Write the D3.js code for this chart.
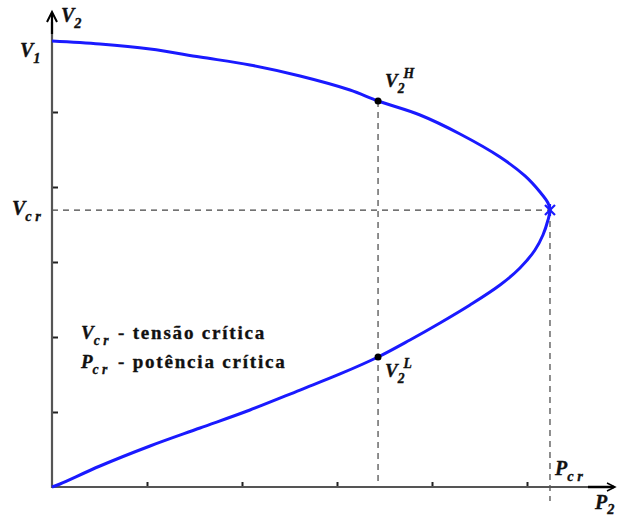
<!DOCTYPE html>
<html>
<head>
<meta charset="utf-8">
<script src="https://cdn.jsdelivr.net/npm/d3@7"></script>
</head>
<body style="margin:0">
<svg id="chart" width="618" height="518"></svg>
<script>
// P-V nose curve: load power P2 vs receiving-end voltage V2
const upperP = [0, 0.505, 1.032, 1.558, 2.084, 2.611, 3.137, 3.432, 3.874, 4.295, 4.716, 4.979, 5.137, 5.221, 5.242];
const upperV = [5.947, 5.907, 5.84, 5.733, 5.627, 5.48, 5.293, 5.147, 4.96, 4.707, 4.4, 4.147, 3.933, 3.787, 3.693];
const lowerP = [5.242, 5.221, 5.168, 5.084, 4.926, 4.716, 4.4, 4.084, 3.768, 3.432, 3.032, 2.611, 2.084, 1.558, 1.032, 0.505, 0.084, 0];
const lowerV = [3.693, 3.56, 3.36, 3.16, 2.92, 2.693, 2.427, 2.187, 1.96, 1.733, 1.507, 1.293, 1.027, 0.787, 0.547, 0.28, 0.04, 0];
const xTicks = [1, 2, 3, 4, 5];
const yTicks = [1, 2, 3, 4, 5];
const operatingP = 3.432;           // load level marked by the vertical dashed line
const highV = 5.147, lowV = 1.733;  // V2H and V2L at that load
const Pcr = 5.242, Vcr = 3.693;     // nose of the curve
const legendLines = [
  { sym: "V", sub: "c r", text: "- tensão crítica" },
  { sym: "P", sub: "c r", text: "- potência crítica" }
];

const svg = d3.select("#chart");
const x = d3.scaleLinear().domain([0, 6]).range([52, 622]);
const y = d3.scaleLinear().domain([0, 6]).range([487, 37]);

const axisColor = "#555";

// dashed guides
const guides = svg.append("g").attr("stroke", "#444").attr("stroke-width", 1.2)
  .attr("stroke-dasharray", "6,5").attr("fill", "none");
guides.append("line").attr("x1", x(0)).attr("x2", x(Pcr)).attr("y1", y(Vcr)).attr("y2", y(Vcr));
guides.append("line").attr("x1", x(Pcr)).attr("x2", x(Pcr)).attr("y1", y(Vcr)).attr("y2", y(0) + 14);
guides.append("line").attr("x1", x(operatingP)).attr("x2", x(operatingP)).attr("y1", y(highV)).attr("y2", y(0) - 3);

// axes
const xAxis = d3.axisBottom(x).tickValues(xTicks).tickSize(-5).tickFormat("").tickSizeOuter(0);
const yAxis = d3.axisLeft(y).tickValues(yTicks).tickSize(-6).tickFormat("").tickSizeOuter(0);
const gx = svg.append("g").attr("transform", `translate(0,${y(0)})`).call(xAxis);
const gy = svg.append("g").attr("transform", `translate(${x(0)},0)`).call(yAxis);
[gx, gy].forEach(g => {
  g.select(".domain").remove();
  g.selectAll(".tick line").attr("stroke", "#222").attr("stroke-width", 2);
});
svg.append("line").attr("x1", x(0)).attr("x2", 598).attr("y1", y(0)).attr("y2", y(0))
  .attr("stroke", axisColor).attr("stroke-width", 2.2);
svg.append("line").attr("x1", x(0)).attr("x2", x(0)).attr("y1", y(0) + 1).attr("y2", 22)
  .attr("stroke", axisColor).attr("stroke-width", 2.2);

// arrow heads
svg.append("line").attr("x1", 588).attr("x2", 614).attr("y1", y(0)).attr("y2", y(0))
  .attr("stroke", "#000").attr("stroke-width", 2.5);
svg.append("path").attr("d", `M607,${y(0) - 4} L615,${y(0)} L607,${y(0) + 4}`)
  .attr("stroke", "#000").attr("stroke-width", 1.5).attr("fill", "none");
svg.append("line").attr("x1", x(0)).attr("x2", x(0)).attr("y1", 34).attr("y2", 14)
  .attr("stroke", "#000").attr("stroke-width", 2.2);
svg.append("path").attr("d", `M${x(0) - 5},22 L${x(0)},12 L${x(0) + 5},22`)
  .attr("stroke", "#000").attr("stroke-width", 2).attr("fill", "none");

// the curve
const pts = upperP.map((p, i) => [p, upperV[i]])
  .concat(lowerP.slice(1).map((p, i) => [p, lowerV[i + 1]]));
const line = d3.line().x(d => x(d[0])).y(d => y(d[1])).curve(d3.curveCatmullRom.alpha(0.5));
svg.append("path").datum(pts).attr("d", line)
  .attr("fill", "none").attr("stroke", "#1a1aff").attr("stroke-width", 3);

// critical point marker
const cx = x(Pcr), cy = y(Vcr);
const star = svg.append("g").attr("stroke", "#1a1aff").attr("stroke-width", 2.2);
star.append("line").attr("x1", cx - 5).attr("x2", cx + 5).attr("y1", cy - 5).attr("y2", cy + 5);
star.append("line").attr("x1", cx - 5).attr("x2", cx + 5).attr("y1", cy + 5).attr("y2", cy - 5);
star.append("line").attr("x1", cx).attr("x2", cx).attr("y1", cy - 6).attr("y2", cy + 6);

// operating points
svg.selectAll("circle.op").data([highV, lowV]).join("circle").attr("class", "op")
  .attr("cx", x(operatingP)).attr("cy", d => y(d)).attr("r", 3.5).attr("fill", "#000");

function serif(sel, size, italic) {
  return sel.style("font-family", "Liberation Serif")
    .style("font-weight", "bold")
    .style("font-style", italic ? "italic" : "normal")
    .style("font-size", size + "px")
    .attr("fill", "#111").attr("stroke", "#111").attr("stroke-width", 0.35);
}

// labels with sub/superscripts
function symLabel(px, py, main, sub, sup, size, subDy) {
  const t = serif(svg.append("text").attr("x", px).attr("y", py), size, true);
  t.append("tspan").text(main);
  if (sub) t.append("tspan").style("font-size", (size * 0.72) + "px").attr("dy", subDy != null ? subDy : size * 0.3).text(sub);
  if (sup) t.append("tspan").style("font-size", (size * 0.72) + "px").attr("dx", -1).attr("dy", -size * 0.8).text(sup);
  return t;
}
symLabel(61, 22, "V", "2", null, 20);
symLabel(20, 57, "V", "1", null, 20);
symLabel(12, 215, "V", "c r", null, 20);
symLabel(385, 87, "V", "2", "H", 19);
symLabel(385, 377, "V", "2", "L", 19);
symLabel(555, 475, "P", "c r", null, 20);
symLabel(595, 509, "P", "2", null, 20, 5);

// legend
legendLines.forEach((d, i) => {
  const yy = 339 + i * 29;
  symLabel(81, yy, d.sym, d.sub, null, 19);
  serif(svg.append("text").attr("x", 118).attr("y", yy), 19, false)
    .style("letter-spacing", "1.8px").text(d.text);
});
</script>
</body>
</html>
